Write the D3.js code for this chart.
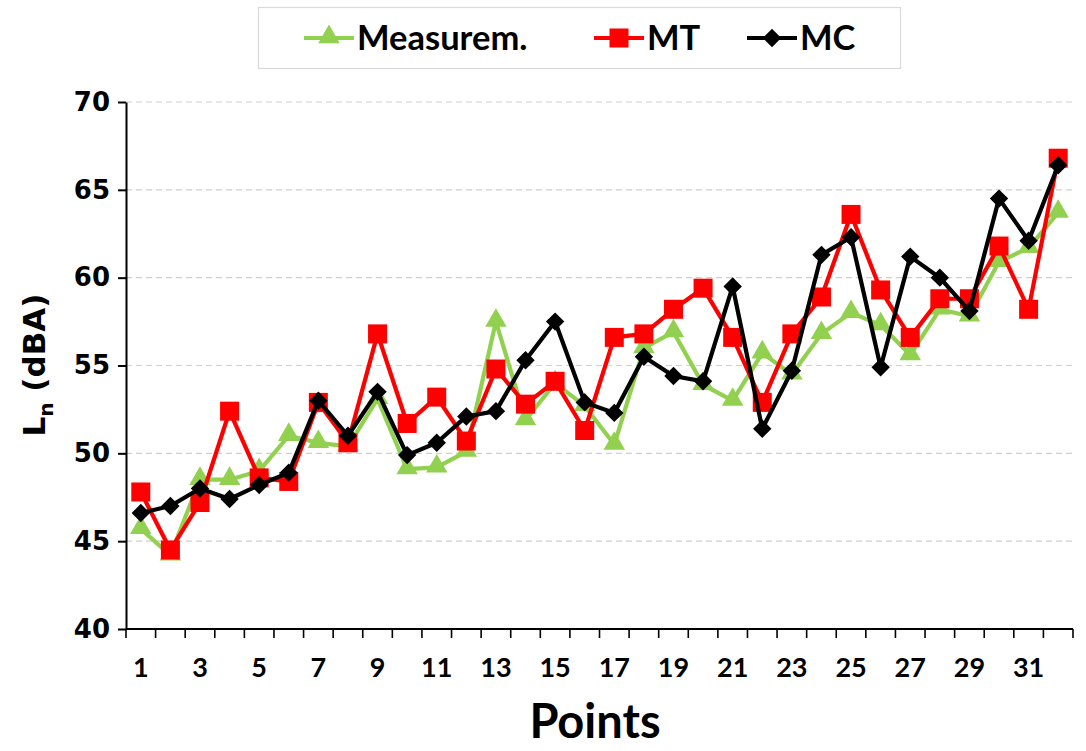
<!DOCTYPE html>
<html><head><meta charset="utf-8">
<script src="https://cdn.jsdelivr.net/npm/d3@7"></script>
<style>body{margin:0;background:#fff}svg{display:block}</style>
</head><body>
<svg id="c" width="1086" height="751"></svg>
<script>
const points = [1,2,3,4,5,6,7,8,9,10,11,12,13,14,15,16,17,18,19,20,21,22,23,24,25,26,27,28,29,30,31,32];
const measurem = [45.7,44.2,48.5,48.5,49.0,51.0,50.6,50.4,53.1,49.1,49.2,50.1,57.5,51.9,54.0,52.7,50.5,56.0,56.9,53.9,53.0,55.7,54.5,56.8,58.0,57.3,55.6,58.2,57.8,60.9,61.7,63.7];
const mt = [47.8,44.5,47.2,52.4,48.6,48.4,52.9,50.6,56.8,51.7,53.2,50.7,54.8,52.8,54.1,51.3,56.6,56.8,58.2,59.4,56.6,52.9,56.8,58.9,63.6,59.3,56.6,58.8,58.8,61.8,58.2,66.8];
const mc = [46.6,47.0,48.0,47.4,48.2,48.9,53.0,51.0,53.5,49.9,50.6,52.1,52.4,55.3,57.5,52.9,52.3,55.5,54.4,54.1,59.5,51.4,54.7,61.3,62.3,54.9,61.2,60.0,58.1,64.5,62.1,66.4];
const yTicks = [40,45,50,55,60,65,70];
const xTickLabels = [1,3,5,7,9,11,13,15,17,19,21,23,25,27,29,31];
const seriesNames = ["Measurem.","MT","MC"];
const seriesColors = ["#92D050","#FF0000","#000000"];

const svg = d3.select("#c");
const L = 126, R = 1073, T = 102, B = 629;
const x = d3.scaleBand().domain(points).range([L, R]).padding(0);
const y = d3.scaleLinear().domain([40, 70]).range([B, T]);
const cx = d => x(d) + x.bandwidth()/2;

// marker builders
const markers = [
  g => g.append("path").attr("d", d3.symbol().type(d3.symbolTriangle).size(200)).attr("transform", "translate(0,-1)"),
  g => g.append("rect").attr("x", -9.5).attr("y", -9.5).attr("width", 19).attr("height", 19),
  g => g.append("rect").attr("x", -6.5).attr("y", -6.5).attr("width", 13).attr("height", 13).attr("transform", "rotate(45)")
];

// gridlines
svg.append("g").selectAll("line").data(yTicks.filter(v => v > 40)).join("line")
  .attr("x1", L).attr("x2", R).attr("y1", d => y(d)).attr("y2", d => y(d))
  .attr("stroke", "#d0d0d0").attr("stroke-width", 1.2).attr("stroke-dasharray", "6,4");

// y axis
const ya = svg.append("g").attr("transform", `translate(${L},0)`)
  .call(d3.axisLeft(y).tickValues(yTicks).tickSize(8).tickPadding(8).tickSizeOuter(0));
ya.select(".domain").attr("stroke", "#000").attr("stroke-width", 2);
ya.selectAll(".tick line").attr("stroke", "#000").attr("stroke-width", 2);
ya.selectAll(".tick text").attr("font-family", "DejaVu Sans").attr("font-weight", "bold")
  .attr("font-size", 26).attr("fill", "#000");

// x axis
const xg = svg.append("g").attr("transform", `translate(0,${B})`);
xg.append("line").attr("x1", L).attr("x2", R).attr("stroke", "#000").attr("stroke-width", 2);
const bounds = points.map(p => x(p)).concat([x(points[points.length-1]) + x.bandwidth()]);
xg.selectAll("line.tk").data(bounds).join("line").attr("class", "tk")
  .attr("x1", d => d).attr("x2", d => d).attr("y1", 0).attr("y2", 9)
  .attr("stroke", "#000").attr("stroke-width", 1.6);
xg.selectAll("text").data(xTickLabels).join("text")
  .attr("x", d => cx(d)).attr("y", 48).attr("text-anchor", "middle")
  .attr("font-family", "Lato").attr("font-weight", "bold").attr("font-size", 27)
  .attr("fill", "#000").text(d => d);

// axis titles
svg.append("text").attr("x", 595).attr("y", 738).attr("text-anchor", "middle")
  .attr("font-family", "Lato").attr("font-weight", "bold").attr("font-size", 47)
  .attr("fill", "#000").text("Points");
const yt = svg.append("text").attr("transform", "translate(45,365) rotate(-90)")
  .attr("text-anchor", "middle").attr("font-family", "DejaVu Sans").attr("font-weight", "bold")
  .attr("font-size", 31).attr("fill", "#000");
yt.append("tspan").text("L");
yt.append("tspan").attr("font-size", 20).attr("dy", 8).text("n");
yt.append("tspan").attr("dy", -8).text(" (dBA)");

// series
const allSeries = [measurem, mt, mc];
const line = d3.line().x((d, i) => cx(points[i])).y(d => y(d));
allSeries.forEach((vals, k) => {
  const g = svg.append("g");
  g.append("path").datum(vals).attr("d", line).attr("fill", "none")
    .attr("stroke", seriesColors[k]).attr("stroke-width", 4.2).attr("stroke-linejoin", "round");
  g.selectAll("g.m").data(vals).join("g").attr("class", "m")
    .attr("transform", (d, i) => `translate(${cx(points[i])},${y(d)})`)
    .attr("fill", seriesColors[k])
    .each(function() { markers[k](d3.select(this)); });
});

// legend
svg.append("rect").attr("x", 258.5).attr("y", 7.5).attr("width", 642).attr("height", 61)
  .attr("fill", "#fff").attr("stroke", "#d9d9d9").attr("stroke-width", 1.2);
const legX = [304, 594, 747];
seriesNames.forEach((n, k) => {
  const g = svg.append("g").attr("transform", `translate(${legX[k]},38)`);
  g.append("line").attr("x1", 0).attr("x2", 50).attr("stroke", seriesColors[k]).attr("stroke-width", 4.2);
  const mg = g.append("g").attr("transform", "translate(25,0)").attr("fill", seriesColors[k]);
  markers[k](mg);
  g.append("text").attr("x", 53).attr("y", 0).attr("dy", "0.36em")
    .attr("font-family", "Lato").attr("font-weight", "bold").attr("font-size", 34.5)
    .attr("fill", "#000").text(n);
});
</script>
</body></html>
